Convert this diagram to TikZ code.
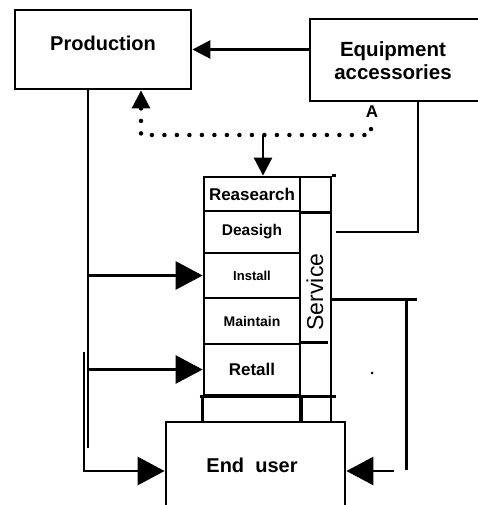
\documentclass[tikz,border=0pt]{standalone}
\usepackage{fontspec}
\setmainfont{Liberation Sans}
\usetikzlibrary{arrows.meta}

\begin{document}
\begin{tikzpicture}[
  x=1pt, y=-1pt,
  line width=2.8pt,
  box/.style={draw, inner sep=0pt},
  row/.style={draw, minimum width=96pt, inner sep=0pt},
  lbl/.style={font=\fontsize{20}{23}\selectfont\bfseries, align=center},
  bigtip/.style={-{Triangle[length=27pt, width=28pt]}},
  smalltip/.style={-{Triangle[length=18pt, width=18pt]}},
  dotline/.style={line width=4.5pt, line cap=round, dash pattern=on 0pt off 12.5pt}
]
\useasboundingbox (0,0) rectangle (478,505);

% --- Top boxes ---
\node[box, minimum width=176pt, minimum height=79pt] (prod) at (103,49.5) {};
\node[lbl] (prodtxt) at (103,43) {Production};

\node[box, minimum width=180pt, minimum height=82pt] (equip) at (400,60) {};
\node[lbl, font=\fontsize{20.5}{23}\selectfont\bfseries] (equiptxt) at (393,61) {Equipment\\accessories};

\draw[smalltip] (equip.west |- prod.east) -- (prod.east);

% --- Stack of tasks ---
\foreach \c/\h/\t/\f [count=\i] in {194/34/Reasearch/17, 232/42/Deasigh/15.5, 275.5/45/Install/13, 321/46/Maintain/14, 369.5/51/Retall/17} {
  \node[row, minimum height=\h pt, font=\fontsize{\f}{\f}\selectfont\bfseries] (r\i) at (252,\c) {\t};
}

\node[box, minimum width=31pt, minimum height=245pt] (svc) at (315.5,299.5) {};
\node[font=\fontsize{23}{23}\selectfont, rotate=90] (svctxt) at (315,292) {Service};

% --- End user ---
\node[box, minimum width=179pt, minimum height=98pt] (enduser) at (255.5,471) {};
\node[lbl] (endtxt) at (252,465) {End\ \ user};

% table lines
\draw (svc.north east) -- ++(4,0);
\draw (r1.south east) -- (svc.east |- r1.south);
\draw (r5.north east) -- ++(27,0);
\draw ([xshift=-3pt]r5.south west) -- ([xshift=4pt]svc.east |- r5.south);
\draw (r5.south west) -- (r5.south west |- enduser.north);
\draw (r5.south east) -- (r5.south east |- enduser.north);

% --- Dotted feedback ---
\coordinate (dl) at (141,135);
\coordinate (dr) at (371,135);
\coordinate (dm) at (263,135);
\coordinate (du) at ([yshift=-18pt]dl |- prod.south);
\node[font=\fontsize{17}{17}\selectfont\bfseries] (alab) at (372,112) {A};

\draw[dotline] (du) -- (dl) -- (dr) -- (dr |- alab.south);
\draw[smalltip] (du) -- (prod.south -| dl);
\draw[smalltip] (dm) -- (dm |- r1.north);

% --- Left side ---
\coordinate (lv) at ([xshift=-15pt]prod.south);
\draw (lv) -- ++(0,358);
\draw[bigtip] (lv |- r3.west) -- (r3.west);
\draw[bigtip] (lv |- r5.west) -- (r5.west);
\coordinate (ll) at (84,352);
\draw[bigtip] (ll) |- (enduser.west);

% --- Right side ---
\draw ([xshift=18pt]equip.south) |- ([xshift=4pt]svc.east |- r2.east);
\draw (svc.east |- r3.south) -- ++(85,0);
\draw ([xshift=74pt]svc.east |- r3.south) -- ++(0,171);
\draw[bigtip] ([xshift=48pt]enduser.east) -- (enduser.east);

\fill (372,373) circle (1.5);

\end{tikzpicture}
\end{document}
